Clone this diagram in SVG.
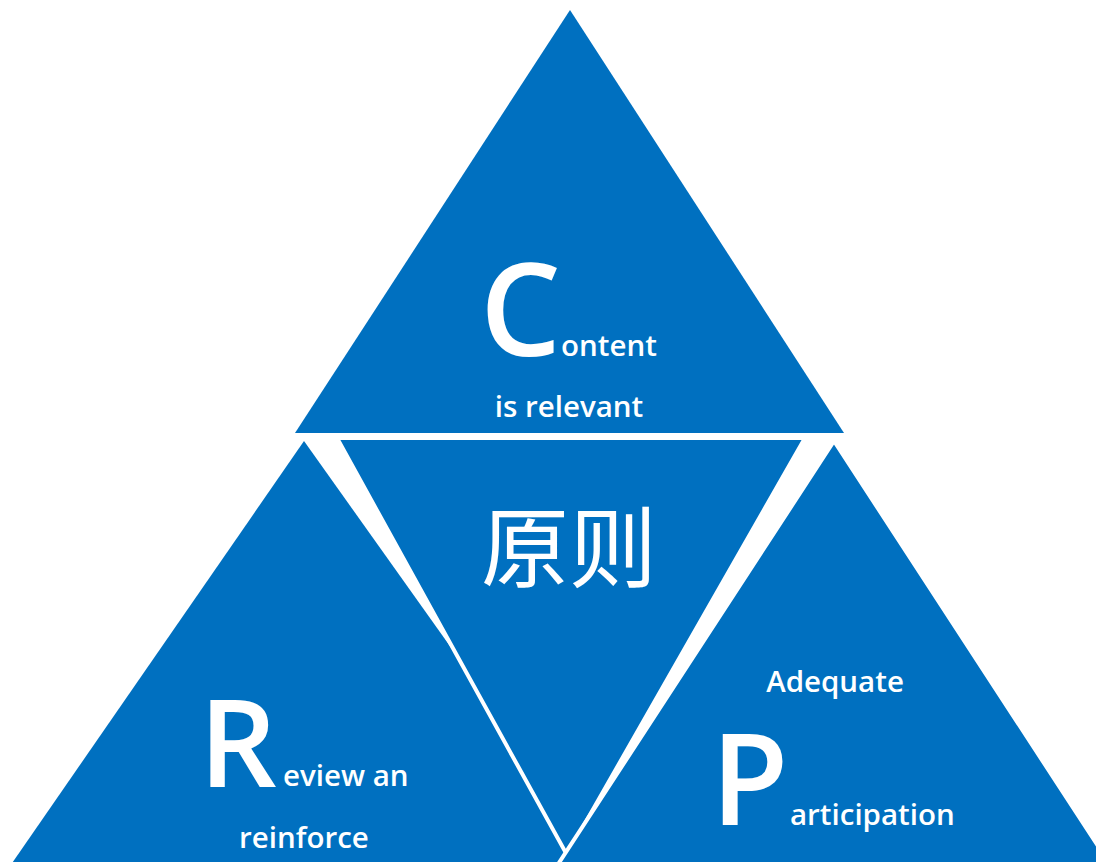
<svg xmlns="http://www.w3.org/2000/svg" width="1096" height="862" viewBox="0 0 1096 862">
<style>
.tri{fill:#0070C0;}
.edged{fill:#0070C0;stroke:#FFFFFF;stroke-width:4;stroke-linejoin:miter;}
.big{font-family:"Open Sans","Noto Sans",sans-serif;fill:#FFFFFF;font-weight:600;}
.small{font-family:"Open Sans","Noto Sans",sans-serif;fill:#FFFFFF;font-weight:600;font-size:29.5px;}
.cjk{font-family:"Noto Sans CJK SC",sans-serif;fill:#FFFFFF;font-size:88px;font-weight:400;}
</style>
<rect width="1096" height="862" fill="#FFFFFF"/>
<g id="node-left">
<polygon class="tri" points="304,441 -10,895 627,895"/>
</g>
<g id="node-top">
<polygon class="tri" points="570,10 295,433 844,433"/>
</g>
<g id="node-center">
<polygon class="edged" points="337,438 805,438 567,855"/>
</g>
<g id="node-right">
<polygon class="edged" points="834,441 1130,895 538,895"/>
</g>
<g id="connectors"></g>
<g id="labels">
<text class="big" x="480" y="356" font-size="128">C</text>
<text class="small" x="561" y="356">ontent</text>
<text class="small" x="569" y="417" text-anchor="middle">is relevant</text>
<text class="cjk" x="569" y="580" text-anchor="middle">原则</text>
<text class="big" x="199" y="787" font-size="122">R</text>
<text class="small" x="283" y="786">eview an</text>
<text class="small" x="304" y="848" text-anchor="middle">reinforce</text>
<text class="small" x="835" y="692" text-anchor="middle">Adequate</text>
<text class="big" x="711" y="825" font-size="126">P</text>
<text class="small" x="790" y="825">articipation</text>
</g>
</svg>
